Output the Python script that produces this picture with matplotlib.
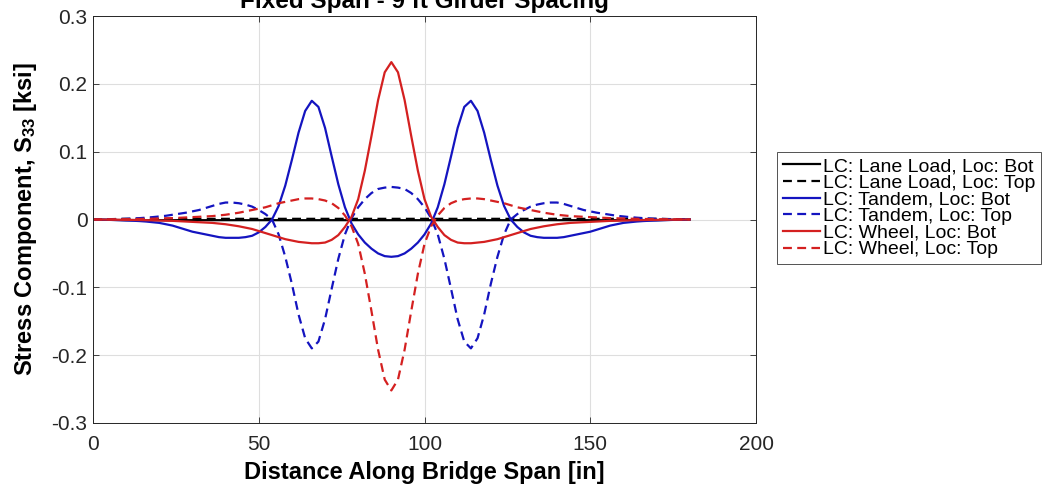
import matplotlib
matplotlib.use("Agg")
import matplotlib.pyplot as plt
import numpy as np

plt.rcParams["font.family"] = ["Liberation Sans", "DejaVu Sans"]
plt.rcParams["mathtext.default"] = "regular"

# distance along span [in]
x_in = np.arange(0, 181, 2)

# stress values [ksi]
lane_bot = [0.000, -0.0002, -0.0004, -0.0006, -0.0008, -0.001, -0.001, -0.001, -0.001, -0.001,
            -0.001, -0.001, -0.001, -0.001, -0.001, -0.001, -0.001, -0.001, -0.001, -0.001,
            -0.001, -0.001, -0.001, -0.001, -0.001, -0.001, -0.001, -0.001, -0.001, -0.001,
            -0.001, -0.001, -0.001, -0.001, -0.001, -0.001, -0.001, -0.001, -0.001, -0.001,
            -0.001, -0.001, -0.001, -0.001, -0.001, -0.001, -0.001, -0.001, -0.001, -0.001,
            -0.001, -0.001, -0.001, -0.001, -0.001, -0.001, -0.001, -0.001, -0.001, -0.001,
            -0.001, -0.001, -0.001, -0.001, -0.001, -0.001, -0.001, -0.001, -0.001, -0.001,
            -0.001, -0.001, -0.001, -0.001, -0.001, -0.001, -0.001, -0.001, -0.001, -0.001,
            -0.001, -0.001, -0.001, -0.001, -0.001, -0.001, -0.0008, -0.0006, -0.0004, -0.0002,
            0.000]
lane_top = [0.000, 0.0002, 0.0004, 0.0006, 0.0008, 0.001, 0.001, 0.001, 0.001, 0.001,
            0.001, 0.001, 0.001, 0.001, 0.001, 0.001, 0.001, 0.001, 0.001, 0.001,
            0.001, 0.001, 0.001, 0.001, 0.001, 0.001, 0.001, 0.001, 0.001, 0.001,
            0.001, 0.001, 0.001, 0.001, 0.001, 0.001, 0.001, 0.001, 0.001, 0.001,
            0.001, 0.001, 0.001, 0.001, 0.001, 0.001, 0.001, 0.001, 0.001, 0.001,
            0.001, 0.001, 0.001, 0.001, 0.001, 0.001, 0.001, 0.001, 0.001, 0.001,
            0.001, 0.001, 0.001, 0.001, 0.001, 0.001, 0.001, 0.001, 0.001, 0.001,
            0.001, 0.001, 0.001, 0.001, 0.001, 0.001, 0.001, 0.001, 0.001, 0.001,
            0.001, 0.001, 0.001, 0.001, 0.001, 0.001, 0.0008, 0.0006, 0.0004, 0.0002,
            0.000]

tandem_bot = [0.000, -0.0002, -0.0004, -0.0007, -0.001, -0.0014, -0.0018, -0.0023, -0.003, -0.004,
              -0.005, -0.007, -0.009, -0.012, -0.015, -0.018, -0.020, -0.022, -0.024, -0.026,
              -0.027, -0.027, -0.027, -0.026, -0.024, -0.019, -0.011, 0.000, 0.020, 0.050,
              0.088, 0.128, 0.160, 0.175, 0.166, 0.135, 0.093, 0.052, 0.018, -0.006,
              -0.022, -0.034, -0.043, -0.050, -0.054, -0.055,
              -0.054, -0.050, -0.043, -0.034, -0.022, -0.006, 0.018, 0.052, 0.093, 0.135,
              0.166, 0.175, 0.160, 0.128, 0.088, 0.050, 0.020, 0.000, -0.011, -0.019,
              -0.024, -0.026, -0.027, -0.027, -0.027, -0.026, -0.024, -0.022, -0.020, -0.018,
              -0.015, -0.012, -0.009, -0.007, -0.005, -0.004, -0.003, -0.0023, -0.0018, -0.0014,
              -0.001, -0.0007, -0.0004, -0.0002, 0.000]
tandem_top = [0.000, 0.0001, 0.0003, 0.0005, 0.0008, 0.001, 0.0015, 0.002, 0.0027, 0.0035,
              0.0045, 0.0055, 0.007, 0.0085, 0.010, 0.012, 0.014, 0.017, 0.020, 0.023,
              0.025, 0.025, 0.024, 0.022, 0.019, 0.014, 0.008, 0.000, -0.022, -0.055,
              -0.095, -0.140, -0.175, -0.190, -0.180, -0.147, -0.102, -0.058, -0.022, 0.002,
              0.018, 0.030, 0.039, 0.045, 0.047, 0.048,
              0.047, 0.045, 0.039, 0.030, 0.018, 0.002, -0.022, -0.058, -0.102, -0.147,
              -0.180, -0.190, -0.175, -0.140, -0.095, -0.055, -0.022, 0.000, 0.008, 0.014,
              0.019, 0.022, 0.024, 0.025, 0.025, 0.023, 0.020, 0.017, 0.014, 0.012,
              0.010, 0.0085, 0.007, 0.0055, 0.0045, 0.0035, 0.0027, 0.002, 0.0015, 0.001,
              0.0008, 0.0005, 0.0003, 0.0001, 0.000]

wheel_bot = [0.000, -0.0001, -0.0002, -0.0003, -0.0004, -0.0005, -0.0006, -0.0008, -0.001, -0.0012,
             -0.0015, -0.0018, -0.002, -0.0025, -0.003, -0.0035, -0.004, -0.0045, -0.005, -0.006,
             -0.007, -0.0085, -0.010, -0.012, -0.014, -0.017, -0.020, -0.023, -0.026, -0.029,
             -0.031, -0.033, -0.034, -0.035, -0.035, -0.034, -0.030, -0.023, -0.011, 0.004,
             0.030, 0.072, 0.123, 0.176, 0.217, 0.232,
             0.217, 0.176, 0.123, 0.072, 0.030, 0.004, -0.011, -0.023, -0.030, -0.034,
             -0.035, -0.035, -0.034, -0.033, -0.031, -0.029, -0.026, -0.023, -0.020, -0.017,
             -0.014, -0.012, -0.010, -0.0085, -0.007, -0.006, -0.005, -0.0045, -0.004, -0.0035,
             -0.003, -0.0025, -0.002, -0.0018, -0.0015, -0.0012, -0.001, -0.0008, -0.0006, -0.0005,
             -0.0004, -0.0003, -0.0002, -0.0001, 0.000]
wheel_top = [0.000, 0.0001, 0.0002, 0.0003, 0.0004, 0.0005, 0.0006, 0.0008, 0.001, 0.0012,
             0.0015, 0.0018, 0.002, 0.0025, 0.003, 0.0035, 0.004, 0.0045, 0.005, 0.006,
             0.007, 0.0085, 0.010, 0.012, 0.014, 0.016, 0.018, 0.021, 0.024, 0.026,
             0.028, 0.030, 0.031, 0.031, 0.030, 0.028, 0.024, 0.017, 0.006, -0.010,
             -0.036, -0.080, -0.135, -0.192, -0.236, -0.252,
             -0.236, -0.192, -0.135, -0.080, -0.036, -0.010, 0.006, 0.017, 0.024, 0.028,
             0.030, 0.031, 0.031, 0.030, 0.028, 0.026, 0.024, 0.021, 0.018, 0.016,
             0.014, 0.012, 0.010, 0.0085, 0.007, 0.006, 0.005, 0.0045, 0.004, 0.0035,
             0.003, 0.0025, 0.002, 0.0018, 0.0015, 0.0012, 0.001, 0.0008, 0.0006, 0.0005,
             0.0004, 0.0003, 0.0002, 0.0001, 0.000]

series = [
    ("LC: Lane Load, Loc: Bot", lane_bot, "black", "-"),
    ("LC: Lane Load, Loc: Top", lane_top, "black", "--"),
    ("LC: Tandem, Loc: Bot", tandem_bot, "#1414c0", "-"),
    ("LC: Tandem, Loc: Top", tandem_top, "#1414c0", "--"),
    ("LC: Wheel, Loc: Bot", wheel_bot, "#d42020", "-"),
    ("LC: Wheel, Loc: Top", wheel_top, "#d42020", "--"),
]

fig = plt.figure(figsize=(10.49, 4.88), dpi=100)
W, H = 1049, 488
ax = fig.add_axes([93 / W, 1 - 423 / H, (756 - 93) / W, (423 - 16) / H])

for label, vals, color, ls in series:
    kw = dict(dashes=(4.0, 2.4)) if ls == "--" else {}
    ax.plot(x_in, vals, color=color, linestyle=ls, linewidth=1.6, label=label, **kw)

ax.set_xlim(0, 200)
ax.set_ylim(-0.3, 0.3)
ax.set_xticks([0, 50, 100, 150, 200])
ax.set_yticks([-0.3, -0.2, -0.1, 0, 0.1, 0.2, 0.3])
ax.set_yticklabels(["-0.3", "-0.2", "-0.1", "0", "0.1", "0.2", "0.3"])
ax.grid(True, color="#dedede", linewidth=0.8)
ax.set_axisbelow(True)
ax.tick_params(direction="in", top=True, right=True, labelsize=15,
               colors="#262626", length=4, width=0.6)
ax.tick_params(axis="x", pad=9)
ax.tick_params(axis="y", pad=4)
for sp in ax.spines.values():
    sp.set_color("#262626")
    sp.set_linewidth(0.7)

ax.set_xlabel("Distance Along Bridge Span [in]", fontsize=17, fontweight="bold", labelpad=5)
ax.set_ylabel("Stress Component, S$_{33}$ [ksi]", fontsize=17, fontweight="bold", labelpad=9)

fig.text((93 + 756) / 2 / W, 1 - 8 / H, "Fixed Span - 9 ft Girder Spacing",
         ha="center", va="baseline", fontsize=17.5, fontweight="bold")

leg = fig.legend(loc="center left", bbox_to_anchor=(777 / W, 1 - 208 / H),
                 fontsize=14, frameon=True, fancybox=False, handlelength=1.9,
                 handletextpad=0.15, labelspacing=-0.05, borderpad=0.3, borderaxespad=0)
leg.get_frame().set_edgecolor("#262626")
leg.get_frame().set_linewidth(0.7)

fig.savefig("out.png", dpi=100)
